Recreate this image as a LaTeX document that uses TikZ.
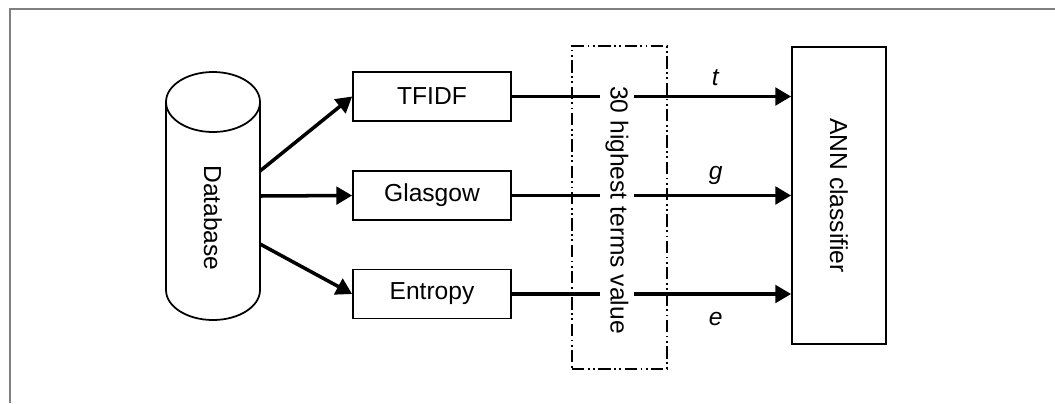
\documentclass[tikz,border=0pt]{standalone}
\usepackage{fontspec}
\setmainfont{Liberation Sans}
\usetikzlibrary{arrows.meta}

\begin{document}
\begin{tikzpicture}[x=0.02cm, y=-0.02cm,
    every node/.style={font=\fontsize{14}{16}\selectfont},
    block/.style={draw, line width=1pt, inner sep=0pt, minimum width=3.16cm, minimum height=0.98cm},
    arr/.style={line width=2pt, -{Triangle[length=9pt, width=10pt]}}]
    \useasboundingbox (0,0) rectangle (1055,403);
    \draw[gray, line width=0.6pt] (10,403) -- (10,9) -- (1055,9);
    % database cylinder
    \draw[line width=1pt] (166,102) -- (166,290) arc[start angle=180, end angle=0, x radius=47, y radius=30] -- (260,102);
    \draw[line width=1pt] (213,102) ellipse[x radius=47, y radius=30];
    \node[rotate=-90] (db) at (213,218) {Database};
    \coordinate (db1) at (260,171);
    \coordinate (db2) at (260,196);
    \coordinate (db3) at (260,244);
    % weighting blocks
    \node[block] (tfidf) at (432,96.5) {TFIDF};
    \node[block] (glasgow) at (432,195.5) {Glasgow};
    \node[block] (entropy) at (432,294) {Entropy};
    \node[draw, line width=1pt, minimum width=1.88cm, minimum height=5.94cm] (ann) at (839,195.5) {};
    \node[rotate=-90] (anntext) at (ann) {ANN classifier};
    \draw[arr] (db1) -- (tfidf.west);
    \draw[arr] (db2) -- (glasgow.west);
    \draw[arr] (db3) -- (entropy.west);
    \draw[arr] (tfidf.east) -- (tfidf.east -| ann.west) node[pos=0.73, above=2pt] {\textit{t}};
    \draw[arr] (glasgow.east) -- (glasgow.east -| ann.west) node[pos=0.73, above=2pt] {\textit{g}};
    \draw[arr] (entropy.east) -- (entropy.east -| ann.west) node[pos=0.73, below=6pt] {\textit{e}};
    % selection
    \node[draw, line width=1.3pt, dash pattern=on 7pt off 2pt on 1pt off 2pt on 1pt off 2pt,
          minimum width=1.9cm, minimum height=6.46cm] (sel) at (619.5,207.5) {};
    \node[rotate=-90, fill=white, inner sep=3pt] (seltext) at (617,210) {30 highest terms value};
\end{tikzpicture}
\end{document}
